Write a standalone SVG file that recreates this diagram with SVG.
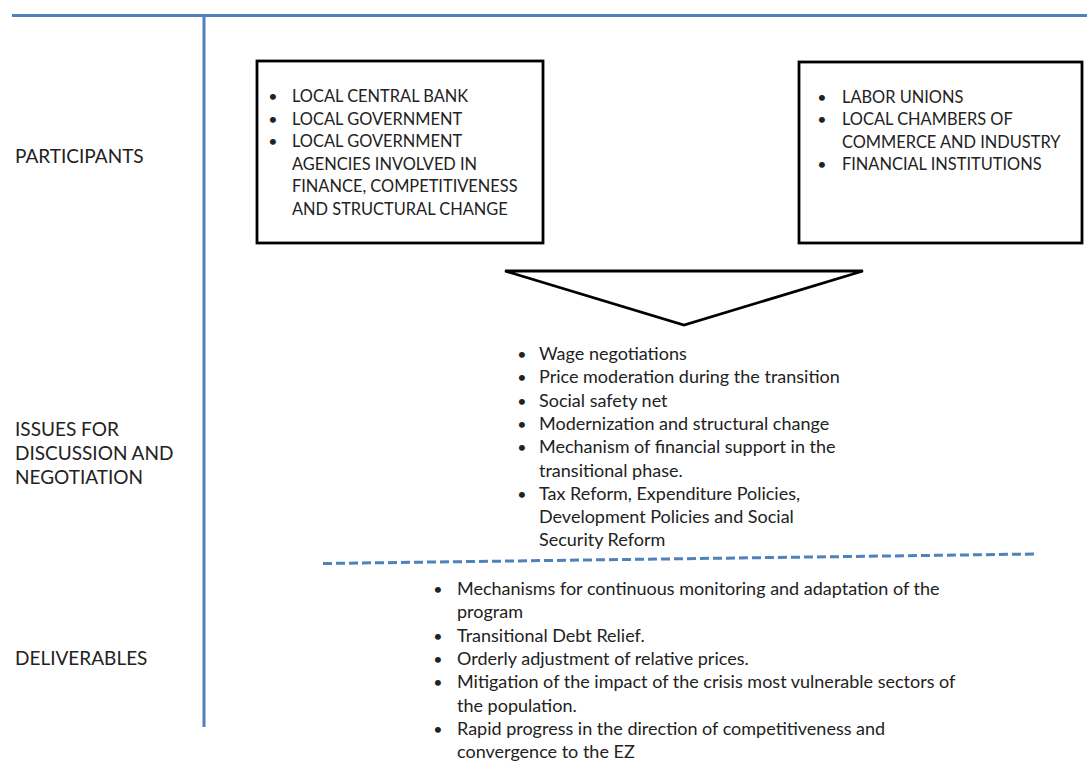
<svg xmlns="http://www.w3.org/2000/svg" width="1087" height="761" viewBox="0 0 1087 761">
<style>
  text { font-family: Lato, "Open Sans", "Liberation Sans", sans-serif; font-size: 18px; fill: #222222; }
  .lbl { font-size: 19px; }
  .cap { font-size: 16.4px; }
  .b { font-size: 16px; text-anchor: middle; }
  .box { fill: #ffffff; stroke: #000000; stroke-width: 2.8; }
  .rule { stroke: #4f81bd; stroke-width: 3; fill: none; }
  .dash { stroke: #4f81bd; stroke-width: 3; fill: none; stroke-dasharray: 9 4; }
</style>
<rect width="1087" height="761" fill="#ffffff"/>
<g id="connectors">
  <line class="rule" x1="12" y1="15.5" x2="1087" y2="15.5"/>
  <line class="rule" x1="204" y1="15" x2="204" y2="727"/>
  <line class="dash" x1="323" y1="563.5" x2="1036" y2="554"/>
</g>
<g id="row-labels">
  <text class="lbl" x="15" y="163">PARTICIPANTS</text>
  <text class="lbl" x="15" y="436">ISSUES FOR</text>
  <text class="lbl" x="15" y="460">DISCUSSION AND</text>
  <text class="lbl" x="15" y="484">NEGOTIATION</text>
  <text class="lbl" x="15" y="665">DELIVERABLES</text>
</g>
<g id="public-participants">
  <rect class="box" x="257" y="61" width="286" height="182"/>
  <text class="b" x="273" y="102">•</text><text class="cap" x="292" y="102">LOCAL CENTRAL BANK</text>
  <text class="b" x="273" y="124.6">•</text><text class="cap" x="292" y="124.6">LOCAL GOVERNMENT</text>
  <text class="b" x="273" y="147.2">•</text><text class="cap" x="292" y="147.2">LOCAL GOVERNMENT</text>
  <text class="cap" x="292" y="169.8">AGENCIES INVOLVED IN</text>
  <text class="cap" x="292" y="192.4">FINANCE, COMPETITIVENESS</text>
  <text class="cap" x="292" y="215">AND STRUCTURAL CHANGE</text>
</g>
<g id="social-participants">
  <rect class="box" x="799" y="62" width="283" height="181"/>
  <text class="b" x="822" y="102.5">•</text><text class="cap" x="842" y="102.5">LABOR UNIONS</text>
  <text class="b" x="822" y="125">•</text><text class="cap" x="842" y="125">LOCAL CHAMBERS OF</text>
  <text class="cap" x="842" y="147.5">COMMERCE AND INDUSTRY</text>
  <text class="b" x="822" y="170">•</text><text class="cap" x="842" y="170">FINANCIAL INSTITUTIONS</text>
</g>
<g id="funnel">
  <polygon class="box" points="505,271 863,271 684,325" stroke-linejoin="miter"/>
</g>
<g id="issues">
  <text class="b" x="522" y="360">•</text><text x="539" y="360">Wage negotiations</text>
  <text class="b" x="522" y="383.3">•</text><text x="539" y="383.3">Price moderation during the transition</text>
  <text class="b" x="522" y="406.6">•</text><text x="539" y="406.6">Social safety net</text>
  <text class="b" x="522" y="430">•</text><text x="539" y="430">Modernization and structural change</text>
  <text class="b" x="522" y="453">•</text><text x="539" y="453">Mechanism of financial support in the</text>
  <text x="539" y="476.5">transitional phase.</text>
  <text class="b" x="522" y="500">•</text><text x="539" y="500">Tax Reform, Expenditure Policies,</text>
  <text x="539" y="523">Development Policies and Social</text>
  <text x="539" y="546">Security Reform</text>
</g>
<g id="deliverables">
  <text class="b" x="438" y="595">•</text><text x="457" y="595">Mechanisms for continuous monitoring and adaptation of the</text>
  <text x="457" y="618.3">program</text>
  <text class="b" x="438" y="641.6">•</text><text x="457" y="641.6">Transitional Debt Relief.</text>
  <text class="b" x="438" y="665">•</text><text x="457" y="665">Orderly adjustment of relative prices.</text>
  <text class="b" x="438" y="688">•</text><text x="457" y="688">Mitigation of the impact of the crisis most vulnerable sectors of</text>
  <text x="457" y="711.5">the population.</text>
  <text class="b" x="438" y="735">•</text><text x="457" y="735">Rapid progress in the direction of competitiveness and</text>
  <text x="457" y="758">convergence to the EZ</text>
</g>
</svg>
